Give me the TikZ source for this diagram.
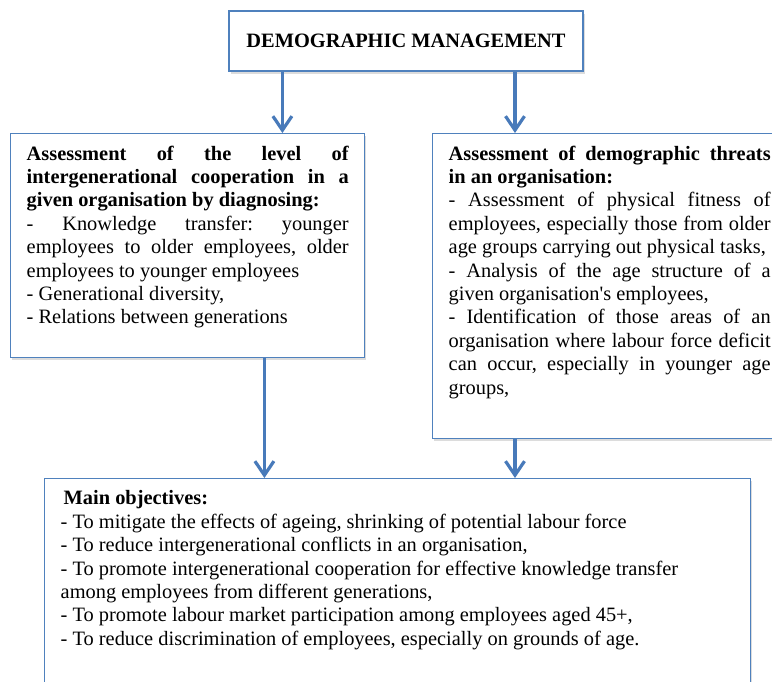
\documentclass[tikz,border=0pt]{standalone}
\usepackage{fontspec}
\setmainfont{Liberation Serif}
\usepackage{xcolor}
\usepackage{tikz}
\usetikzlibrary{arrows.meta,shadows}
\definecolor{boxblue}{RGB}{79,129,189}
\definecolor{linkblue}{RGB}{72,122,186}
\long\def\boxtext#1#2#3{\parbox[t][#1][t]{#2}{#3}}
\tikzstyle{txt}=[font=\fontsize{20.4}{23.4}\selectfont]
\tikzstyle{frame}=[txt,draw=boxblue,line width=1.4pt,fill=white,drop shadow={shadow xshift=1.5pt,shadow yshift=-2.5pt,fill=black!30,opacity=.45}]
\tikzstyle{panel}=[frame,anchor=north west,inner xsep=16pt,inner ysep=12pt]
\tikzstyle{link}=[draw=linkblue,line width=3.2pt,-{Straight Barb[length=14pt,width=19pt]}]
\hyphenpenalty=10000 \tolerance=9999 \hbadness=10000
\frenchspacing

\begin{document}
\begin{tikzpicture}[x=1pt,y=1pt]
    \path[use as bounding box,fill=white] (0,0) rectangle (772,-681);
    \node[frame,minimum width=354pt,minimum height=60pt] (top) at (406,-41) {\bfseries DEMOGRAPHIC MANAGEMENT};
    \node[panel] (diag) at (10,-133) {\boxtext{200pt}{322pt}{%
      {\bfseries Assessment of the level of\linebreak intergenerational cooperation in a\linebreak given organisation by diagnosing:}\par
      - Knowledge transfer: younger\linebreak employees to older employees, older\linebreak employees to younger employees\par
      - Generational diversity,\par
      - Relations between generations}};
    \node[panel] (threat) at (432,-133) {\boxtext{281pt}{322pt}{%
      {\bfseries Assessment of demographic threats\linebreak in an organisation:}\par
      - Assessment of physical fitness of\linebreak employees, especially those from older\linebreak age groups carrying out physical tasks,\par
      - Analysis of the age structure of a\linebreak given organisation\textquotesingle s employees,\par
      - Identification of those areas of an\linebreak organisation where labour force deficit\linebreak can occur, especially in younger age\linebreak groups,}};
    \node[panel] (goals) at (44,-478) {\boxtext{180pt}{674pt}{%
      {\bfseries\hspace{3pt}Main objectives:}\\
      - To mitigate the effects of ageing, shrinking of potential labour force\\
      - To reduce intergenerational conflicts in an organisation,\\
      - To promote intergenerational cooperation for effective knowledge transfer\\
      among employees from different generations,\\
      - To promote labour market participation among employees aged 45+,\\
      - To reduce discrimination of employees, especially on grounds of age.}};
    \coordinate (l1) at ([xshift=-83pt]diag.north east);
    \coordinate (r1) at ([xshift=83pt]threat.north west);
    \coordinate (l2) at ([xshift=-101pt]diag.south east);
    \draw[link] (top.south -| l1) -- (l1);
    \draw[link] (top.south -| r1) -- (r1);
    \draw[link] (l2) -- (l2 |- goals.north);
    \draw[link] (threat.south -| r1) -- (goals.north -| r1);
\end{tikzpicture}
\end{document}
